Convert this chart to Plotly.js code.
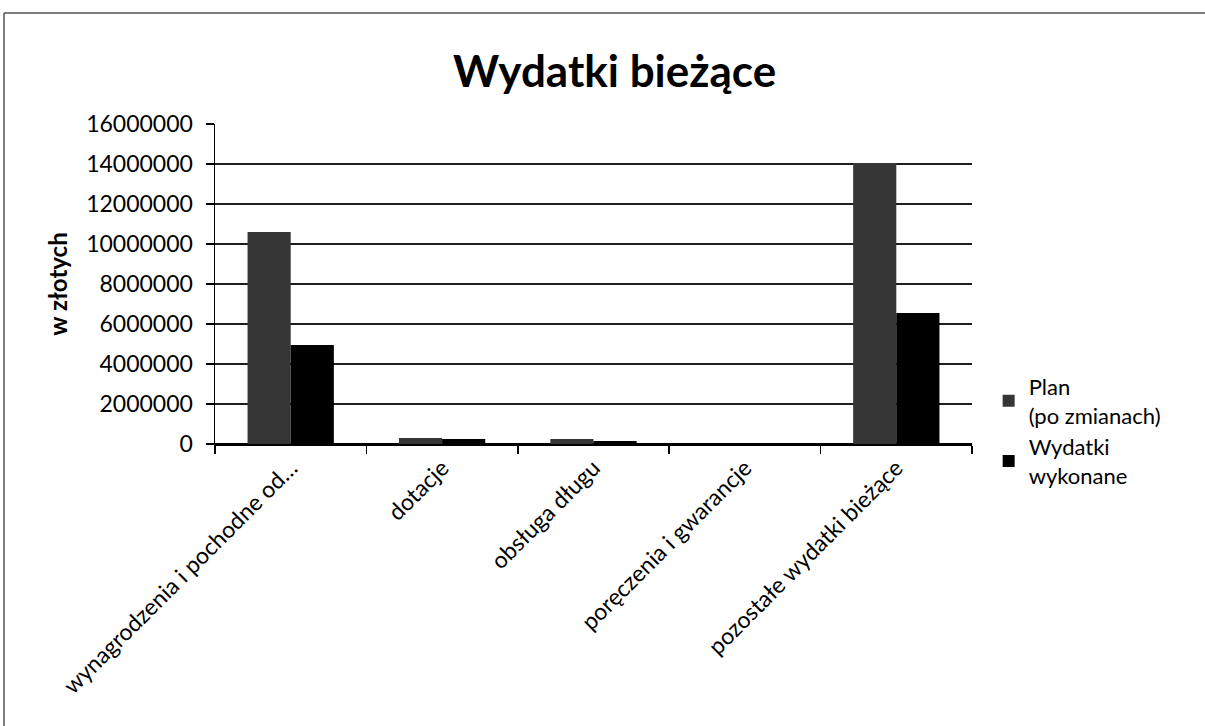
<!DOCTYPE html>
<html>
<head>
<meta charset="utf-8">
<script src="https://cdn.plot.ly/plotly-3.0.1.min.js"></script>
<style>
html,body{margin:0;padding:0;background:#fff;overflow:hidden;}
#chart{width:1205px;height:726px;}
</style>
</head>
<body>
<div id="chart"></div>
<script>
const categories = ["wynagrodzenia i pochodne od…", "dotacje", "obsługa długu", "poręczenia i gwarancje", "pozostałe wydatki bieżące"];
const planValues = [10600000, 300000, 250000, 0, 14050000];
const wydatkiValues = [4950000, 250000, 150000, 0, 6550000];
const seriesNames = ["Plan<br>(po zmianach)", "Wydatki<br>wykonane"];
const yTickValues = [0, 2000000, 4000000, 6000000, 8000000, 10000000, 12000000, 14000000, 16000000];
const yTickLabels = ["0", "2000000", "4000000", "6000000", "8000000", "10000000", "12000000", "14000000", "16000000"];

const FONT = "Lato, 'Open Sans', sans-serif";

const traces = [
  {type: "bar", name: seriesNames[0], x: categories, y: planValues,
   marker: {color: "#363636", line: {width: 0}}},
  {type: "bar", name: seriesNames[1], x: categories, y: wydatkiValues,
   marker: {color: "#000000", line: {width: 0}}}
];

const layout = {
  width: 1205, height: 726,
  paper_bgcolor: "#ffffff", plot_bgcolor: "#ffffff",
  margin: {l: 215, r: 233, t: 124, b: 282},
  font: {family: FONT, color: "#000", size: 23},
  title: {text: "<b>Wydatki bieżące</b>", font: {family: FONT, size: 44, color: "#000"},
          x: 0.51, xanchor: "center", y: 0.902, yanchor: "middle"},
  barmode: "group", bargap: 0.43, bargroupgap: 0,
  showlegend: true,
  legend: {x: 1.022, xanchor: "left", y: 0.245, yanchor: "top",
           font: {family: FONT, size: 22, color: "#000"}, tracegroupgap: 8,
           itemwidth: 30, bgcolor: "rgba(0,0,0,0)"},
  xaxis: {type: "category", showgrid: false, showline: true, linecolor: "#000", linewidth: 1.5,
          ticks: "outside", ticklen: 8, tickcolor: "#000", tickwidth: 1.5, tickson: "boundaries",
          tickangle: -45, tickfont: {family: FONT, size: 23, color: "#000"}, automargin: false},
  yaxis: {range: [0, 16000000], tickvals: yTickValues, ticktext: yTickLabels,
          showgrid: true, gridcolor: "#1e1e1e", gridwidth: 1.5,
          zeroline: true, zerolinecolor: "#000", zerolinewidth: 1.5,
          showline: true, linecolor: "#000", linewidth: 1.5,
          ticks: "outside", ticklen: 8, tickcolor: "#000", tickwidth: 1.5,
          ticklabelstandoff: 8,
          tickfont: {family: FONT, size: 23, color: "#000"},
          title: {text: "<b>w złotych</b>", font: {family: FONT, size: 24, color: "#000"}, standoff: 12},
          automargin: false},
  shapes: [
    {type: "line", xref: "paper", yref: "paper", x0: -0.2787, x1: 1.32, y0: 1.347, y1: 1.347,
     line: {color: "#555", width: 1.5}},
    {type: "line", xref: "paper", yref: "paper", x0: -0.2787, x1: -0.2787, y0: 1.347, y1: -0.9,
     line: {color: "#555", width: 1.5}}
  ]
};

Plotly.newPlot("chart", traces, layout, {displayModeBar: false, staticPlot: true});
</script>
</body>
</html>
